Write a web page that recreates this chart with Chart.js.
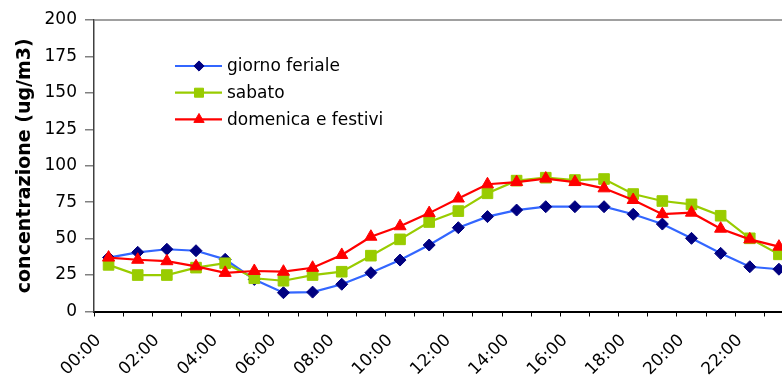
<!DOCTYPE html>
<html>
<head>
<meta charset="utf-8">
<script src="https://cdn.jsdelivr.net/npm/chart.js@4/dist/chart.umd.min.js"></script>
<style>
  html, body { margin: 0; padding: 0; background: #fff; overflow: hidden; }
  #wrap { width: 802px; height: 387px; }
</style>
</head>
<body>
<div id="wrap"><canvas id="chart" width="802" height="387"></canvas></div>
<script>
const hours = ['00:00','01:00','02:00','03:00','04:00','05:00','06:00','07:00','08:00','09:00','10:00','11:00',
               '12:00','13:00','14:00','15:00','16:00','17:00','18:00','19:00','20:00','21:00','22:00','23:00'];

const feriale  = [37, 40.6, 42.7, 41.7, 35.8, 22, 12.9, 13.3, 18.7, 26.6, 35.3, 45.6,
                  57.5, 65.1, 69.6, 71.9, 71.9, 71.9, 66.7, 60.0, 50.2, 39.9, 30.7, 29.0];
const sabato   = [32, 25, 25, 30.1, 33.1, 22.8, 21.1, 25, 27.3, 38.3, 49.5, 61.4,
                  68.9, 81.1, 89.8, 91.8, 90.2, 90.9, 80.6, 75.8, 73.5, 65.7, 50.2, 39.2];
const domenica = [37, 35.5, 34.5, 31, 26.5, 27.8, 27.3, 30, 38.8, 51.3, 58.5, 67.5,
                  77.5, 87.3, 88.8, 91.2, 88.8, 84.5, 76.5, 66.8, 67.8, 56.8, 49.5, 44.5];

const yTicks = [0, 25, 50, 75, 100, 125, 150, 175, 200];

const series = [
  { label: 'giorno feriale', data: feriale, line: '#3366ff', mark: '#000080', style: 'rectRot', r: 6, order: 2 },
  { label: 'sabato', data: sabato, line: '#99cc00', mark: '#99cc00', style: 'rect', r: 7.5, order: 1 },
  { label: 'domenica e festivi', data: domenica, line: '#ff0000', mark: '#ff0000', style: 'triangle', r: 7, order: 0 }
];

const FONT = 'DejaVu Sans';

// Excel style legend inside the plot + top border of plot area
const excelLegend = {
  id: 'excelLegend',
  afterDraw(chart) {
    const { ctx, chartArea } = chart;
    ctx.save();
    ctx.strokeStyle = '#808080';
    ctx.lineWidth = 1.5;
    ctx.beginPath();
    ctx.moveTo(chartArea.left, chartArea.top);
    ctx.lineTo(chartArea.right, chartArea.top);
    ctx.stroke();

    const x0 = chartArea.left + 81;
    let y = chartArea.top + 46;
    series.forEach(s => {
      ctx.strokeStyle = s.line;
      ctx.lineWidth = 2.2;
      ctx.beginPath();
      ctx.moveTo(x0, y);
      ctx.lineTo(x0 + 47, y);
      ctx.stroke();
      ctx.fillStyle = s.mark;
      ctx.strokeStyle = s.mark;
      ctx.lineWidth = 1;
      Chart.helpers.drawPoint(ctx, { pointStyle: s.style, radius: s.r * 0.85, borderWidth: 1 }, x0 + 24, y);
      ctx.fillStyle = '#000';
      ctx.font = '17px ' + FONT;
      ctx.textBaseline = 'middle';
      ctx.textAlign = 'left';
      ctx.fillText(s.label, x0 + 52, y + 1);
      y += 26.7;
    });
    ctx.restore();
  }
};

new Chart(document.getElementById('chart'), {
  type: 'line',
  data: {
    labels: hours,
    datasets: series.map(s => ({
      label: s.label,
      data: s.data,
      order: s.order,
      borderColor: s.line,
      backgroundColor: s.mark,
      pointBackgroundColor: s.mark,
      pointBorderColor: s.mark,
      pointStyle: s.style,
      pointRadius: s.r,
      pointBorderWidth: 1,
      borderWidth: 2.2,
      tension: 0,
      fill: false
    }))
  },
  options: {
    responsive: false,
    animation: false,
    layout: { padding: { left: 0, right: 0, top: 20, bottom: 0 } },
    plugins: { legend: { display: false }, tooltip: { enabled: false } },
    scales: {
      x: {
        offset: true,
        grid: { offset: true, drawOnChartArea: false, drawTicks: true, tickLength: 5, color: '#000', lineWidth: 1 },
        border: { color: '#000', width: 2 },
        ticks: {
          autoSkip: false,
          minRotation: 45,
          maxRotation: 45,
          padding: 14,
          labelOffset: -10,
          color: '#000',
          font: { family: FONT, size: 17 },
          callback: function (v, i) { return i % 2 === 0 ? hours[i] : ''; }
        },
        afterFit(scale) {
          scale.height = 75.5;
          scale.paddingLeft = 0;
          scale.paddingRight = 0;
        }
      },
      y: {
        min: 0,
        max: 200,
        afterBuildTicks(scale) { scale.ticks = yTicks.map(v => ({ value: v })); },
        grid: { drawOnChartArea: false, drawTicks: true, tickLength: 9, color: '#808080', lineWidth: 1.5 },
        border: { color: '#404040', width: 1.5 },
        ticks: { padding: 8, color: '#000', font: { family: FONT, size: 17 } },
        title: {
          display: true,
          text: 'concentrazione (ug/m3)',
          color: '#000',
          font: { family: FONT, size: 19, weight: 'bold' },
          padding: { top: 13.6, bottom: 0 }
        },
        afterFit(scale) { scale.width = 94; }
      }
    }
  },
  plugins: [excelLegend]
});
</script>
</body>
</html>
